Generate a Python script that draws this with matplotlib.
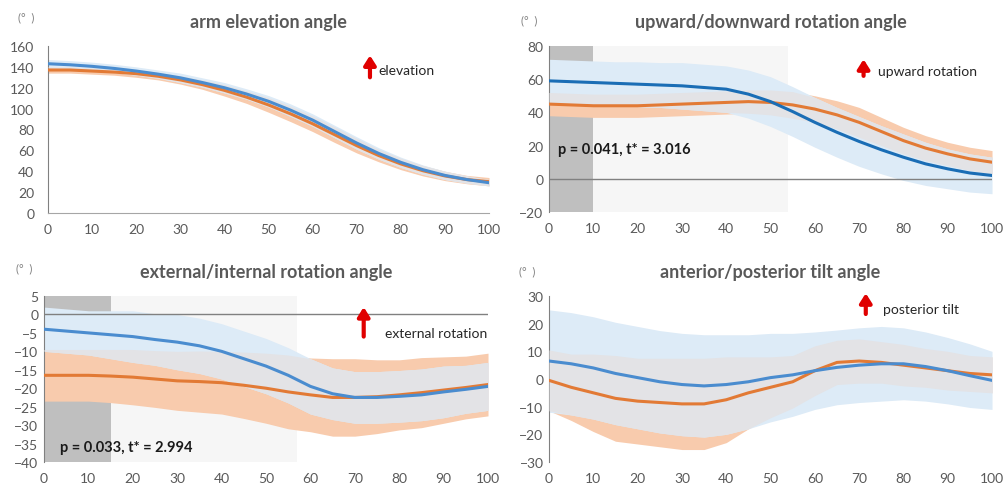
import matplotlib
matplotlib.use("Agg")
import matplotlib.pyplot as plt
import numpy as np

plt.rcParams["font.family"] = ["Lato", "DejaVu Sans"]

# eje x común: % del movimiento
X = [0, 5, 10, 15, 20, 25, 30, 35, 40, 45, 50, 55, 60, 65, 70, 75, 80, 85, 90, 95, 100]

# arm elevation
el_blue = [143, 142, 140.5, 138.5, 136, 133, 129.5, 125, 120, 114, 107, 98.5, 89, 78, 67, 57, 48.5, 41.5, 36, 32, 29]
el_blue_sd = [4, 4, 4, 4, 4, 4, 4.5, 4.5, 5, 5, 5.5, 6, 6, 6, 6, 5.5, 5, 4.5, 4, 3.5, 3]
el_orng = [137, 137, 136, 135, 133.5, 131, 127.5, 123, 117.5, 111, 103.5, 95, 85.5, 75, 64.5, 55, 47, 40.5, 35.5, 32, 30]
el_orng_sd = [3, 3, 3, 3, 3.5, 3.5, 4, 4.5, 5.5, 6, 7, 7.5, 7.5, 7.5, 7, 6, 5.5, 5, 4.5, 4, 4]

# upward/downward rotation
ud_blue = [59, 58.5, 58, 57.5, 57, 56.5, 56, 55, 54, 51, 46.5, 40.5, 34, 28, 22.5, 17.5, 13, 9, 6, 3.5, 2]
ud_blue_sd = [13, 13, 13, 13, 13.5, 13.5, 14, 14, 14, 14.5, 15, 15, 15, 15, 15, 14.5, 14, 13, 12, 11.5, 11]
ud_orng = [45, 44.5, 44, 44, 44, 44.5, 45, 45.5, 46, 46.5, 46, 44.5, 42, 38.5, 34, 28.5, 23, 18.5, 15, 12, 10]
ud_orng_sd = [7, 7, 7, 7, 7, 7, 7, 7, 7, 7, 7.5, 8, 8, 8.5, 9, 8.5, 8, 7.5, 7, 7, 7]

# external/internal rotation
ei_blue = [-4, -4.5, -5, -5.5, -6, -6.8, -7.5, -8.5, -10, -12, -14, -16.5, -19.5, -21.5, -22.5, -22.5, -22.2, -21.8, -21, -20.3, -19.5]
ei_blue_sd = [6, 6, 6, 6.5, 7, 7, 7.5, 7.5, 7.5, 7.5, 7.5, 7.5, 7.5, 7, 7, 7, 7, 7, 7, 6.5, 6.5]
ei_orng = [-16.5, -16.5, -16.5, -16.7, -17, -17.5, -18, -18.2, -18.5, -19.2, -20, -21, -21.8, -22.5, -22.5, -22.3, -21.8, -21.2, -20.5, -19.8, -19]
ei_orng_sd = [7, 7, 7, 7.2, 7.5, 7.7, 8, 8.3, 8.5, 9, 9.5, 10, 10, 10.5, 10.5, 10, 9.5, 9.5, 9, 8.5, 8.5]

# anterior/posterior tilt
ap_blue = [6.5, 5.5, 4, 2, 0.5, -1, -2, -2.5, -2, -1, 0.5, 1.5, 3, 4.2, 5, 5.5, 5.5, 4.5, 3, 1.2, -0.5]
ap_blue_sd = [18.5, 18.5, 18.5, 18.5, 18.5, 18.5, 18.5, 18.5, 18, 17, 16, 15, 14, 13.5, 13.5, 13.5, 13, 12.5, 12, 11.5, 10.5]
ap_orng = [-0.5, -3, -5, -7, -8, -8.5, -9, -9, -7.5, -5, -3, -1, 3, 6, 6.5, 6, 5, 4, 3, 2, 1.5]
ap_orng_sd = [11, 12, 14, 15.5, 15.5, 16, 16.5, 16.5, 15.5, 13, 11, 9.5, 9, 8, 8, 7.5, 7.5, 7, 7, 6.5, 6.5]

GRIS = "#595959"
C_AZUL = "#4a8ccf"
C_AZUL_OSC = "#1a6db5"
C_NAR = "#e27a35"


def panel(ax, titulo, azul, azul_sd, nar, nar_sd, ylim, yticks, c_azul=C_AZUL, ypad=4):
    x = np.array(X)
    a, asd = np.array(azul), np.array(azul_sd)
    n, nsd = np.array(nar), np.array(nar_sd)
    a_lo, a_hi = a - asd, a + asd
    n_lo, n_hi = n - nsd, n + nsd
    ax.fill_between(x, n_lo, n_hi, color="#f8cbad", lw=0, zorder=1)
    ax.fill_between(x, a_lo, a_hi, color="#ddebf7", lw=0, zorder=2)
    lo = np.maximum(a_lo, n_lo)
    hi = np.minimum(a_hi, n_hi)
    ax.fill_between(x, lo, hi, where=hi > lo, interpolate=True, color="#e3e3e6", lw=0, zorder=3)
    ax.plot(x, n, color=C_NAR, lw=2.2, zorder=5)
    ax.plot(x, a, color=c_azul, lw=2.2, zorder=6)

    ax.set_xlim(0, 100)
    ax.set_ylim(*ylim)
    ax.set_xticks(range(0, 101, 10))
    ax.set_yticks(yticks)
    ax.tick_params(length=0, labelsize=10, colors=GRIS)
    ax.tick_params(axis="x", pad=7)
    ax.tick_params(axis="y", pad=ypad)
    for s in ["top", "right", "bottom"]:
        ax.spines[s].set_visible(False)
    ax.spines["left"].set_color("#808080")
    ax.set_title(titulo, fontsize=13, fontweight="bold", color=GRIS, pad=14)


def flecha(ax, x, y0, y1, texto, xt, yt):
    ax.annotate("", xy=(x, y1), xytext=(x, y0), annotation_clip=False,
                arrowprops=dict(arrowstyle="-|>,head_width=0.35,head_length=0.55",
                                color="#e00000", lw=3, shrinkA=0, shrinkB=0), zorder=8)
    ax.text(xt, yt, texto, fontsize=10, color="#262626", va="center", ha="left", zorder=8)


fig = plt.figure(figsize=(10.05, 4.89), dpi=100)
ax1 = fig.add_axes([0.0478, 0.5624, 0.4388, 0.3415])
ax2 = fig.add_axes([0.5463, 0.5644, 0.4408, 0.3395])
ax3 = fig.add_axes([0.0438, 0.0532, 0.4418, 0.3394])
ax4 = fig.add_axes([0.5463, 0.0532, 0.4408, 0.3394])

# 1. elevación del brazo
panel(ax1, "arm elevation angle", el_blue, el_blue_sd, el_orng, el_orng_sd,
      (0, 160), range(0, 161, 20), ypad=10)
ax1.spines["bottom"].set_visible(True)
ax1.spines["bottom"].set_color("#a6a6a6")
flecha(ax1, 73, 130, 151, "elevation", 74.8, 137)

# 2. rotación superior/inferior
panel(ax2, "upward/downward rotation angle", ud_blue, ud_blue_sd, ud_orng, ud_orng_sd,
      (-20, 80), range(-20, 81, 20), c_azul=C_AZUL_OSC)
ax2.axvspan(10, 54, color="#f6f6f6", lw=0, zorder=0)
ax2.axvspan(0, 10, color="#bfbfbf", lw=0, zorder=0)
ax2.axhline(0, color="#808080", lw=1, zorder=4)
flecha(ax2, 71, 62, 72, "upward rotation", 74.3, 65)
ax2.text(2, 18, "p = 0.041, t* = 3.016", fontsize=10.5, fontweight="bold",
         color="#1a1a1a", va="center", zorder=8)

# 3. rotación externa/interna
panel(ax3, "external/internal rotation angle", ei_blue, ei_blue_sd, ei_orng, ei_orng_sd,
      (-40, 5), range(-40, 6, 5))
ax3.axvspan(15, 57, color="#f6f6f6", lw=0, zorder=0)
ax3.axvspan(0, 15, color="#bfbfbf", lw=0, zorder=0)
ax3.axhline(0, color="#808080", lw=1, zorder=4)
flecha(ax3, 72, -6, 2, "external rotation", 76.8, -5)
ax3.text(3.6, -36, "p = 0.033, t* = 2.994", fontsize=10.5, fontweight="bold",
         color="#1a1a1a", va="center", zorder=8)

# 4. inclinación anterior/posterior
panel(ax4, "anterior/posterior tilt angle", ap_blue, ap_blue_sd, ap_orng, ap_orng_sd,
      (-30, 30), range(-30, 31, 10))
flecha(ax4, 71.5, 23.5, 31, "posterior tilt", 75.4, 25.3)

# unidades
for (xf, yf) in [(0.018, 0.957), (0.518, 0.950), (0.016, 0.444), (0.516, 0.438)]:
    fig.text(xf, yf, "(°  )", fontsize=8, color="#7f7f7f")

fig.savefig("out.png", dpi=100)
